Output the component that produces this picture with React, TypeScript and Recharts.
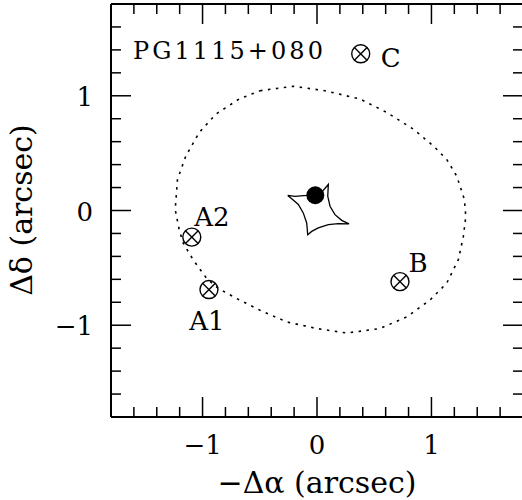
import React from 'react';
import { ScatterChart, Scatter, XAxis, YAxis } from 'recharts';

// tick positions (arcsec)
const tickValues = [-1.6, -1.4, -1.2, -1, -0.8, -0.6, -0.4, -0.2, 0, 0.2, 0.4, 0.6, 0.8, 1, 1.2, 1.4, 1.6];
const tickLabels: Record<string, string> = { '-1': '−1', '0': '0', '1': '1' };

// critical curve (dotted)
const criticalCurve = [
  { x: -0.498, y: 1.044 }, { x: -0.207, y: 1.083 }, { x: 0.07, y: 1.044 }, { x: 0.376, y: 0.972 },
  { x: 0.609, y: 0.855 }, { x: 0.842, y: 0.709 }, { x: 1.017, y: 0.563 }, { x: 1.133, y: 0.446 },
  { x: 1.221, y: 0.3 }, { x: 1.288, y: 0.096 }, { x: 1.3, y: -0.051 }, { x: 1.279, y: -0.226 },
  { x: 1.235, y: -0.429 }, { x: 1.133, y: -0.634 }, { x: 0.987, y: -0.781 }, { x: 0.784, y: -0.927 },
  { x: 0.55, y: -1.029 }, { x: 0.26, y: -1.068 }, { x: -0.003, y: -1.029 }, { x: -0.265, y: -0.971 },
  { x: -0.498, y: -0.869 }, { x: -0.702, y: -0.767 }, { x: -0.863, y: -0.679 }, { x: -0.964, y: -0.592 },
  { x: -1.081, y: -0.431 }, { x: -1.169, y: -0.285 }, { x: -1.204, y: -0.168 }, { x: -1.239, y: 0.008 },
  { x: -1.219, y: 0.271 }, { x: -1.146, y: 0.475 }, { x: -1.029, y: 0.68 }, { x: -0.884, y: 0.84 },
  { x: -0.68, y: 0.972 }, { x: -0.498, y: 1.044 },
];

// caustic (solid, astroid-like)
const caustic = [
  { x: -0.256, y: 0.131 }, { x: -0.192, y: 0.124 }, { x: -0.09, y: 0.131 }, { x: 0.041, y: 0.159 },
  { x: 0.099, y: 0.227 }, { x: 0.094, y: 0.124 }, { x: 0.114, y: 0.037 }, { x: 0.157, y: -0.036 },
  { x: 0.216, y: -0.086 }, { x: 0.28, y: -0.117 }, { x: 0.186, y: -0.115 }, { x: 0.099, y: -0.124 },
  { x: 0.011, y: -0.152 }, { x: -0.046, y: -0.182 }, { x: -0.081, y: -0.211 }, { x: -0.09, y: -0.109 },
  { x: -0.12, y: -0.021 }, { x: -0.163, y: 0.052 }, { x: -0.221, y: 0.102 }, { x: -0.256, y: 0.131 },
];

// lensed images
const images = [
  { x: -0.944, y: -0.689, name: 'A1' },
  { x: -1.094, y: -0.232, name: 'A2' },
  { x: 0.725, y: -0.62, name: 'B' },
  { x: 0.382, y: 1.366, name: 'C' },
];

// lens galaxy
const galaxy = [{ x: -0.015, y: 0.133 }];

const FONT = 'DejaVu Serif';
const labelOffsets: Record<string, [number, number]> = {
  A1: [-2, 31],
  A2: [20, -21],
  B: [18, -19],
  C: [30, 4],
};

const isMajor = (v: number) => Math.abs(v - Math.round(v)) < 1e-6;
const labelFor = (v: number) => tickLabels[String(Math.round(v))];

const BottomTick = (p: any) => {
  const v = p.payload.value;
  const major = isMajor(v);
  return (
    <g>
      <line x1={p.x} x2={p.x} y1={p.y} y2={p.y - (major ? 20 : 10)} stroke="#000" strokeWidth={1.5} />
      {major && (
        <text x={p.x} y={p.y + 37} textAnchor="middle" fontFamily={FONT} fontSize={26} fill="#000">
          {labelFor(v)}
        </text>
      )}
    </g>
  );
};

const TopTick = (p: any) => {
  const major = isMajor(p.payload.value);
  return <line x1={p.x} x2={p.x} y1={p.y} y2={p.y + (major ? 20 : 10)} stroke="#000" strokeWidth={1.5} />;
};

const LeftTick = (p: any) => {
  const v = p.payload.value;
  const major = isMajor(v);
  return (
    <g>
      <line x1={p.x} x2={p.x + (major ? 20 : 10)} y1={p.y} y2={p.y} stroke="#000" strokeWidth={1.5} />
      {major && (
        <text x={p.x - 18} y={p.y + 10} textAnchor="end" fontFamily={FONT} fontSize={26} fill="#000">
          {labelFor(v)}
        </text>
      )}
    </g>
  );
};

const RightTick = (p: any) => {
  const major = isMajor(p.payload.value);
  return <line x1={p.x} x2={p.x - (major ? 20 : 10)} y1={p.y} y2={p.y} stroke="#000" strokeWidth={1.5} />;
};

const ImageMarker = (p: any) => {
  const { cx, cy, payload } = p;
  const r = 9;
  const d = r * 0.7071;
  const off = labelOffsets[payload.name] || [0, 0];
  return (
    <g>
      <circle cx={cx} cy={cy} r={r} fill="none" stroke="#000" strokeWidth={1.4} />
      <line x1={cx - d} y1={cy - d} x2={cx + d} y2={cy + d} stroke="#000" strokeWidth={1.4} />
      <line x1={cx - d} y1={cy + d} x2={cx + d} y2={cy - d} stroke="#000" strokeWidth={1.4} />
      <text x={cx + off[0]} y={cy + off[1] + 9.5} textAnchor="middle" fontFamily={FONT} fontSize={26} fill="#000">
        {payload.name}
      </text>
    </g>
  );
};

const GalaxyMarker = (p: any) => <circle cx={p.cx} cy={p.cy} r={9} fill="#000" />;
const NoShape = () => <g />;

const axisLine = { stroke: '#000', strokeWidth: 2 };

export default function App() {
  return (
    <div style={{ position: 'absolute', left: 0, top: 0, width: 522, height: 500, overflow: 'hidden', background: '#fff' }}>
      <ScatterChart width={530} height={500} margin={{ top: 3, right: 6, bottom: 82, left: 110 }}>
        <XAxis
          xAxisId="b"
          dataKey="x"
          type="number"
          domain={[-1.8, 1.8]}
          ticks={tickValues}
          interval={0}
          height={1}
          tickSize={0}
          tickMargin={0}
          tickLine={false}
          axisLine={axisLine}
          tick={BottomTick}
          allowDataOverflow
        />
        <XAxis
          xAxisId="t"
          orientation="top"
          dataKey="x"
          type="number"
          domain={[-1.8, 1.8]}
          ticks={tickValues}
          interval={0}
          height={1}
          tickSize={0}
          tickMargin={0}
          tickLine={false}
          axisLine={axisLine}
          tick={TopTick}
          allowDataOverflow
        />
        <YAxis
          yAxisId="l"
          dataKey="y"
          type="number"
          domain={[-1.8, 1.8]}
          ticks={tickValues}
          interval={0}
          width={1}
          tickSize={0}
          tickMargin={0}
          tickLine={false}
          axisLine={axisLine}
          tick={LeftTick}
          allowDataOverflow
        />
        <YAxis
          yAxisId="r"
          orientation="right"
          dataKey="y"
          type="number"
          domain={[-1.8, 1.8]}
          ticks={tickValues}
          interval={0}
          width={1}
          tickSize={0}
          tickMargin={0}
          tickLine={false}
          axisLine={axisLine}
          tick={RightTick}
          allowDataOverflow
        />
        <Scatter
          xAxisId="b"
          yAxisId="l"
          data={criticalCurve}
          line={{ stroke: '#000', strokeWidth: 1.6, strokeDasharray: '2.5 5.5' }}
          shape={NoShape}
          isAnimationActive={false}
        />
        <Scatter
          xAxisId="b"
          yAxisId="l"
          data={caustic}
          line={{ stroke: '#000', strokeWidth: 1.3 }}
          shape={NoShape}
          isAnimationActive={false}
        />
        <Scatter xAxisId="b" yAxisId="l" data={galaxy} shape={GalaxyMarker} isAnimationActive={false} />
        <Scatter xAxisId="b" yAxisId="l" data={images} shape={ImageMarker} isAnimationActive={false} />
      </ScatterChart>
      <svg width={522} height={500} style={{ position: 'absolute', left: 0, top: 0, pointerEvents: 'none' }}>
        <text x={133} y={59} fontFamily={FONT} fontSize={24} textLength={190} lengthAdjust="spacing" fill="#000">
          PG1115+080
        </text>
        <text x={317} y={493} textAnchor="middle" fontFamily={FONT} fontSize={30} fill="#000">
          −Δα (arcsec)
        </text>
        <text
          x={32}
          y={210}
          textAnchor="middle"
          fontFamily={FONT}
          fontSize={30}
          fill="#000"
          transform="rotate(-90, 32, 210)"
        >
          Δδ (arcsec)
        </text>
      </svg>
    </div>
  );
}
